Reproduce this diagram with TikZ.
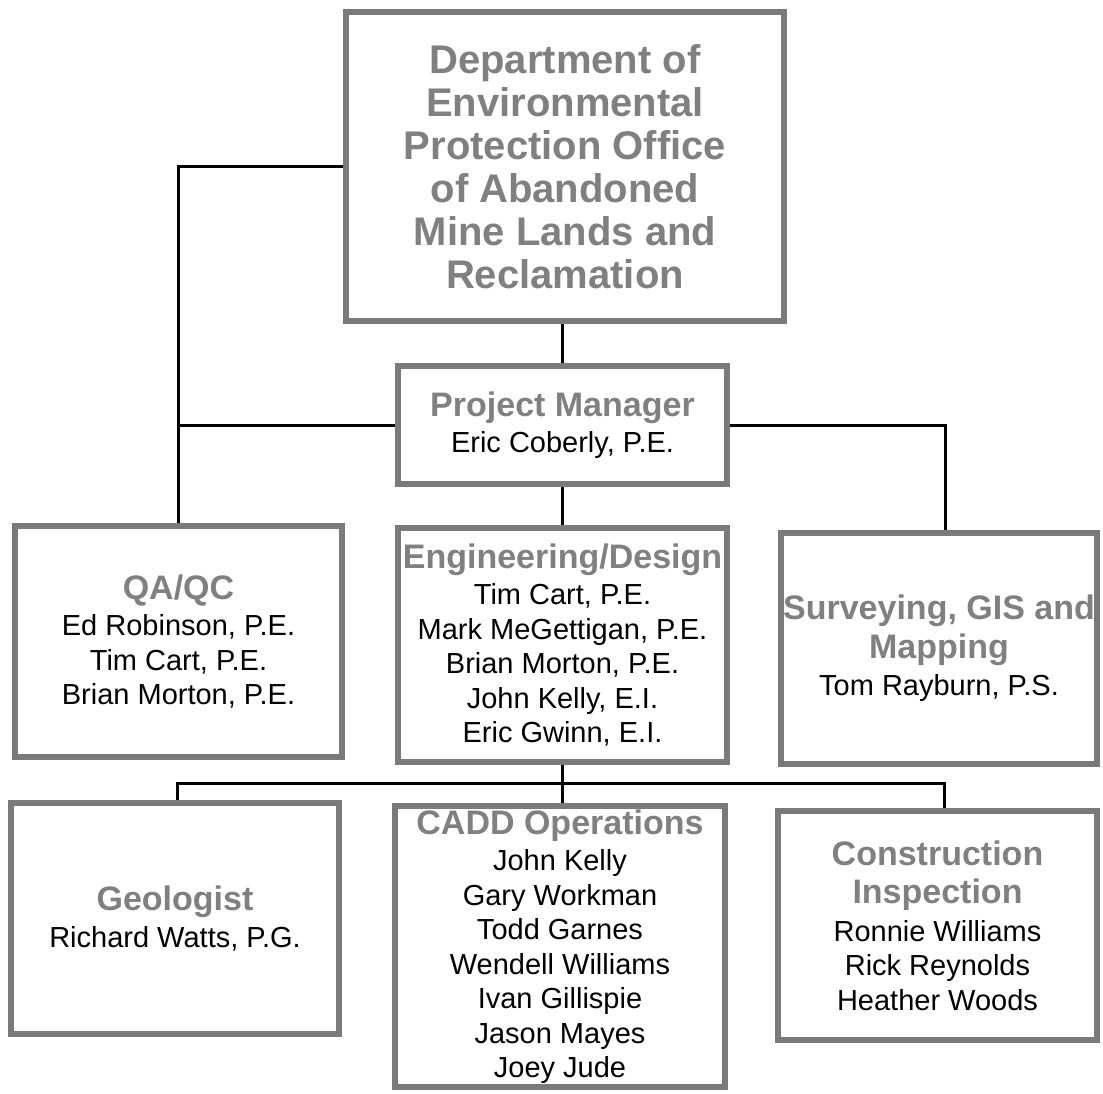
\documentclass[tikz,border=0pt]{standalone}
\usepackage{fontspec}
\setmainfont{Liberation Sans}
\definecolor{boxgray}{RGB}{122,122,122}
\definecolor{headgray}{RGB}{128,128,128}
\tikzset{
every picture/.style={
line width=3pt
}}
\newcommand{\hd}[1]{{\color{headgray}\bfseries\fontsize{34}{38}\selectfont #1}}

\begin{document}
\begin{tikzpicture}[x=1pt, y=-1pt,
block/.style = {rectangle, draw=boxgray, line width=6pt, fill=white, align=center, inner sep=0pt, font=\fontsize{29}{34.5}\selectfont},
link/.style = {black, line width=3pt}]

\useasboundingbox[fill=white] (0,0) rectangle (1103,1093);

\node[block, minimum width=438, minimum height=309, text=headgray, font=\bfseries\fontsize{40}{43}\selectfont] (dep) at (565,166.5)
  {Department of\\Environmental\\Protection Office\\of Abandoned\\Mine Lands and\\Reclamation};
\node[block, minimum width=329, minimum height=118] (pm) at (562.5,425)
  {\hd{Project Manager}\\[2pt]Eric Coberly, P.E.};

\node[block, minimum width=327, minimum height=231] (qa) at (178.5,641.5)
  {\hd{QA/QC}\\[2pt]Ed Robinson, P.E.\\Tim Cart, P.E.\\Brian Morton, P.E.};
\node[block, minimum width=329, minimum height=234] (eng) at (562.5,645)
  {\hd{Engineering/Design}\\[2pt]Tim Cart, P.E.\\Mark MeGettigan, P.E.\\Brian Morton, P.E.\\John Kelly, E.I.\\Eric Gwinn, E.I.};
\node[block, minimum width=316, minimum height=231] (surv) at (939,648.5)
  {\hd{Surveying, GIS and}\\[4pt]\hd{Mapping}\\[3pt]Tom Rayburn, P.S.};

\node[block, minimum width=328, minimum height=231] (geo) at (175,918.5)
  {\hd{Geologist}\\[2pt]Richard Watts, P.G.};
\node[block, minimum width=330, minimum height=281] (cadd) at (560,946.5)
  {\hd{CADD Operations}\\[2pt]John Kelly\\Gary Workman\\Todd Garnes\\Wendell Williams\\Ivan Gillispie\\Jason Mayes\\Joey Jude};
\node[block, minimum width=319, minimum height=229] (cons) at (937.5,925.5)
  {\hd{Construction}\\[4pt]\hd{Inspection}\\[3pt]Ronnie Williams\\Rick Reynolds\\Heather Woods};

\coordinate (bus) at (560,783);

\draw[link] (dep.west) -| (qa.north);
\draw[link] (pm.north |- dep.south) -- (pm.north);
\draw[link] (pm.west) -- (pm.west -| qa.north);
\draw[link] (pm.east) -| ([xshift=6]surv.north);
\draw[link] (pm.south) -- (eng.north);
\draw[link] (eng.south) -- (eng.south |- cadd.north);
\draw[link] ([xshift=2]geo.north) |- (bus) -| ([xshift=7]cons.north);
\end{tikzpicture}
\end{document}
